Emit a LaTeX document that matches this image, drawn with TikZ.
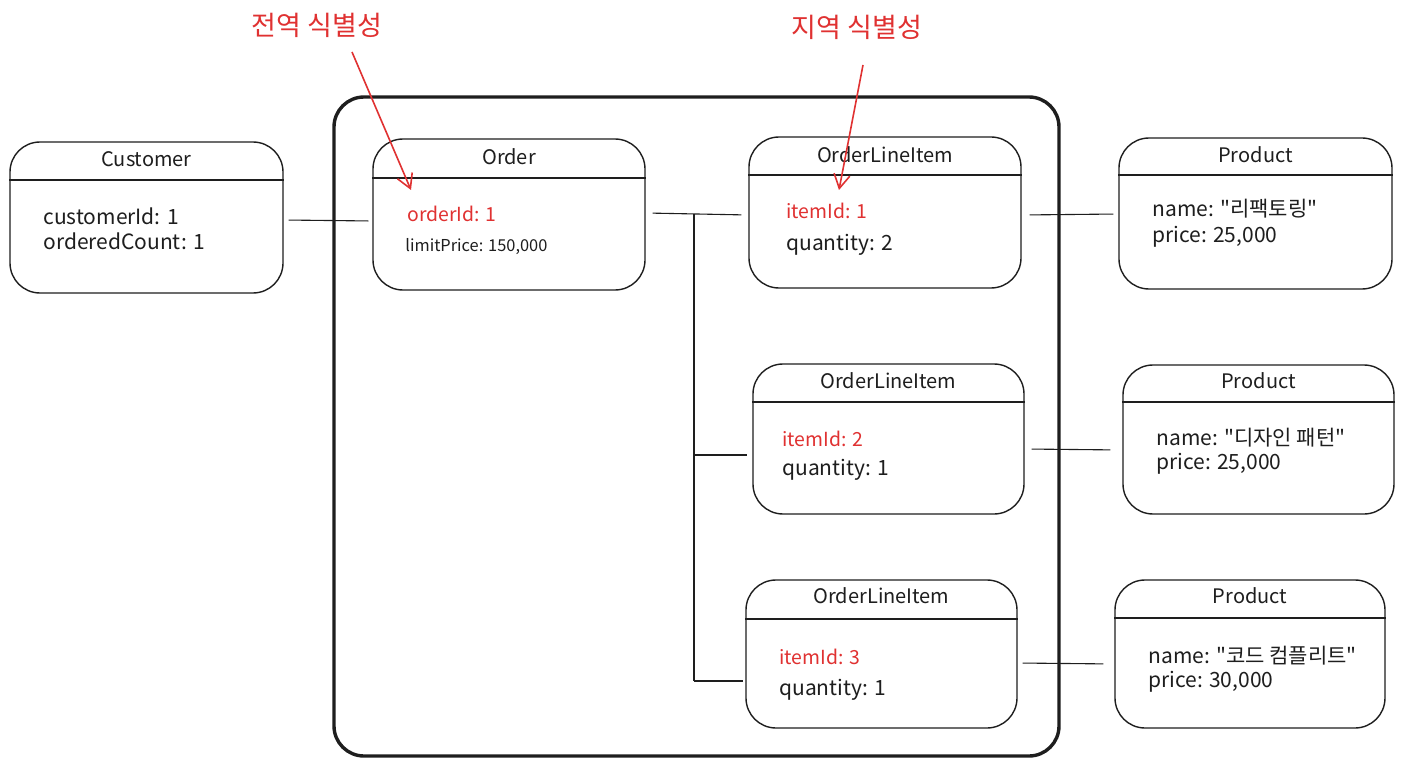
\documentclass[tikz,border=0pt]{standalone}
\usepackage{fontspec}
\setmainfont{Noto Sans CJK KR}
\newfontfamily\kfont{Noto Sans CJK KR}
\usetikzlibrary{fit,arrows.meta}
\definecolor{ink}{HTML}{1E1E1E}
\definecolor{exred}{HTML}{E03131}
\begin{document}
\begin{tikzpicture}[x=0.5pt,y=-0.5pt,
  box/.style={draw=ink,line width=0.7pt,rounded corners=15pt,inner sep=0pt},
  divider/.style={draw=ink,line width=0.7pt},
  title/.style={font=\kfont\fontsize{10}{12}\selectfont,text=ink,inner sep=0pt},
  field/.style={font=\kfont\fontsize{10.5}{12}\selectfont,text=ink,anchor=west,inner sep=0pt},
  smallfield/.style={font=\kfont\fontsize{8.2}{10}\selectfont,text=ink,anchor=west,inner sep=0pt},
  redfield/.style={field,text=exred,font=\kfont\fontsize{9.7}{11}\selectfont},
  conn/.style={draw=ink,line width=0.55pt},
  container/.style={draw=ink,line width=1.7pt,rounded corners=15pt,inner sep=0pt},
  note/.style={font=\kfont\fontsize{13.5}{15}\selectfont,text=exred,inner sep=0pt},
  notearrow/.style={draw=exred,line width=0.8pt,-{Straight Barb[length=7pt,width=8pt]}}
]
\useasboundingbox (0,0) rectangle (1405,765);
\fill[white] (0,0) rectangle (1405,765);

% container
\node[container,fit={(334,97) (1059,756)}] (agg) {};

% Customer
\node[box,fit={(10,142) (283,293)}] (cust) {};
\draw[divider] (cust.west |- 0,180) -- (cust.east |- 0,180);
\node[title] (custT) at (cust.center |- 0,159) {Customer};
\node[field] (custA) at (43,216) {customerId: 1};
\node[field] (custB) at (43,241) {orderedCount: 1};

% Order
\node[box,fit={(373,139) (645,290)}] (ord) {};
\draw[divider] (ord.west |- 0,178) -- (ord.east |- 0,178);
\node[title] (ordT) at (ord.center |- 0,157) {Order};
\node[redfield] (ordA) at (407,214) {orderId: 1};
\node[smallfield] (ordB) at (405,247) {limitPrice: 150,000};

% OrderLineItem 1
\node[box,fit={(749,137) (1021,288)}] (oli1) {};
\draw[divider] (oli1.west |- 0,175) -- (oli1.east |- 0,175);
\node[title] (oli1T) at (oli1.center |- 0,155) {OrderLineItem};
\node[redfield] (oli1A) at (786,211) {itemId: 1};
\node[field] (oli1B) at (786,245) {quantity: 2};

% Product 1
\node[box,fit={(1119,138) (1392,289)}] (p1) {};
\draw[divider] (p1.west |- 0,175) -- (p1.east |- 0,175);
\node[title] (p1T) at (p1.center |- 0,155) {Product};
\node[field] (p1A) at (1152,209) {name: "리팩토링"};
\node[field] (p1B) at (1152,237) {price: 25,000};

% OrderLineItem 2
\node[box,fit={(753,364) (1024,514)}] (oli2) {};
\draw[divider] (oli2.west |- 0,402) -- (oli2.east |- 0,402);
\node[title] (oli2T) at (oli2.center |- 0,381) {OrderLineItem};
\node[redfield] (oli2A) at (782,439) {itemId: 2};
\node[field] (oli2B) at (782,470) {quantity: 1};

% Product 2
\node[box,fit={(1123,365) (1394,514)}] (p2) {};
\draw[divider] (p2.west |- 0,402) -- (p2.east |- 0,402);
\node[title] (p2T) at (p2.center |- 0,381) {Product};
\node[field] (p2A) at (1156,438) {name: "디자인 패턴"};
\node[field] (p2B) at (1156,464) {price: 25,000};

% OrderLineItem 3
\node[box,fit={(746,580) (1017,728)}] (oli3) {};
\draw[divider] (oli3.west |- 0,619) -- (oli3.east |- 0,619);
\node[title] (oli3T) at (oli3.center |- 0,596) {OrderLineItem};
\node[redfield] (oli3A) at (779,657) {itemId: 3};
\node[field] (oli3B) at (779,690) {quantity: 1};

% Product 3
\node[box,fit={(1115,580) (1385,728)}] (p3) {};
\draw[divider] (p3.west |- 0,618) -- (p3.east |- 0,618);
\node[title] (p3T) at (p3.center |- 0,596) {Product};
\node[field] (p3A) at (1148,656) {name: "코드 컴플리트"};
\node[field] (p3B) at (1148,682) {price: 30,000};

% connectors
\coordinate (j0) at (694,214);
\coordinate (j2) at (694,455);
\coordinate (j3) at (694,681);
\draw[conn,shorten <=5pt/2,shorten >=4pt/2] (cust.east |- 0,220) -- (ord.west |- 0,221);
\draw[conn,shorten <=7pt/2,shorten >=7pt/2] (ord.east |- 0,213) -- (oli1.west |- 0,215);
\draw[conn] (j0) -- (j3);
\draw[conn,shorten >=5pt/2] (j2) -- (oli2.west |- j2);
\draw[conn,shorten >=2pt/2] (j3) -- (oli3.west |- j3);
\draw[conn,shorten <=8pt/2,shorten >=5pt/2] (oli1.east |- 0,215) -- (p1.west |- 0,214);
\draw[conn,shorten <=7pt/2,shorten >=12pt/2] (oli2.east |- 0,449) -- (p2.west |- 0,450);
\draw[conn,shorten <=5pt/2,shorten >=11pt/2] (oli3.east |- 0,663) -- (p3.west |- 0,664);

% annotations
\node[note] (g) at (317,25) {전역 식별성};
\node[note] (l) at (857,27) {지역 식별성};
\coordinate (gs) at (352,52);
\coordinate (ge) at (411,190);
\coordinate (ls) at (863,65);
\coordinate (le) at (839,190);
\draw[notearrow] (gs) -- (ge);
\draw[notearrow] (ls) -- (le);
\end{tikzpicture}
\end{document}
